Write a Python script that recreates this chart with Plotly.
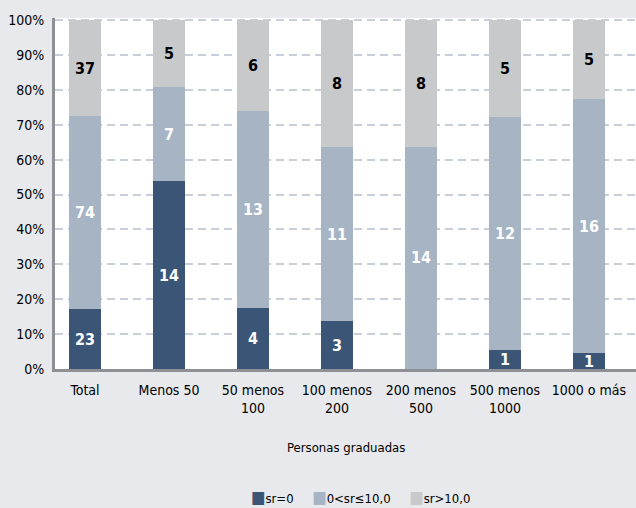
import plotly.graph_objects as go

categories = ["Total", "Menos 50", "50 menos<br>100", "100 menos<br>200", "200 menos<br>500", "500 menos<br>1000", "1000 o más"]
sr_zero = [23, 14, 4, 3, 0, 1, 1]
sr_low = [74, 7, 13, 11, 14, 12, 16]
sr_high = [37, 5, 6, 8, 8, 5, 5]
series_names = ["sr=0", "0<sr≤10,0", "sr>10,0"]

FONT = "DejaVu Sans Condensed, Liberation Sans Narrow, sans-serif"
colors = ["#3a5576", "#a6b4c4", "#c8c9cb"]
textcolors = ["white", "white", "black"]
BG = "#e7e9ec"

fig = go.Figure()
for name, vals, col, tc in zip(series_names, [sr_zero, sr_low, sr_high], colors, textcolors):
    fig.add_trace(go.Bar(
        x=categories, y=vals, name=name, marker=dict(color=col, line=dict(width=0)),
        width=0.37, showlegend=False,
        text=[str(v) if v else "" for v in vals],
        textposition="inside", insidetextanchor="middle", constraintext="none",
        textfont=dict(family=FONT, size=16, color=tc, weight="bold"),
        textangle=0,
    ))

# legend as a single centred line of text
legend_parts = []
for name, col in zip(series_names, colors):
    safe = name.replace("<", "&lt;").replace(">", "&gt;")
    legend_parts.append(f"<span style='color:{col};font-size:17px'>■</span>{safe}")
legend_text = "&nbsp;&nbsp;&nbsp;&nbsp;&nbsp;".join(legend_parts)

fig.update_layout(
    barmode="stack", barnorm="percent",
    width=636, height=508,
    margin=dict(l=55, r=0, t=18, b=139, autoexpand=False),
    paper_bgcolor=BG, plot_bgcolor="white",
    font=dict(family=FONT, size=14, color="black"),
    xaxis=dict(range=[-0.357, 6.56], showgrid=False, showline=True, linecolor="#8e9096",
               linewidth=3, ticks="", ticklabelstandoff=6, tickfont=dict(size=14),
               automargin=False),
    yaxis=dict(range=[0, 100.6], dtick=10, ticksuffix="%", showgrid=True,
               gridcolor="#c9cfd9", gridwidth=2, griddash="8px,5px",
               showline=True, linecolor="#8e9096", linewidth=3, ticks="",
               ticklabelstandoff=5, zeroline=False, tickfont=dict(size=14),
               automargin=False),
    annotations=[
        dict(text="Personas graduadas", xref="paper", yref="paper", x=0.5, y=-0.225,
             xanchor="center", yanchor="middle", showarrow=False, font=dict(size=13)),
        dict(text=legend_text, xref="paper", yref="paper", x=0.525, y=-0.365,
             xanchor="center", yanchor="middle", showarrow=False, font=dict(size=13)),
    ],
)

fig.write_html("out.html", config={"displayModeBar": False},
               post_script="document.body.style.margin='0';document.body.style.background='%s';" % BG)
